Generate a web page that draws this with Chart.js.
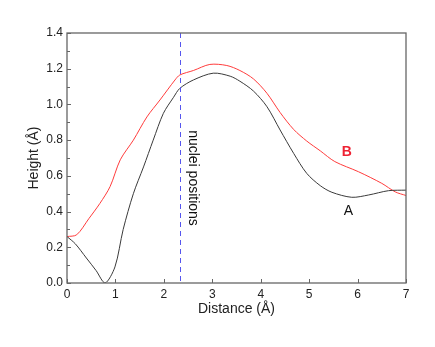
<!DOCTYPE html>
<html>
<head>
<meta charset="utf-8">
<script src="https://cdn.jsdelivr.net/npm/chart.js@4"></script>
<style>
  html, body { margin: 0; padding: 0; background: #fff; }
  #wrap { width: 435px; height: 347px; }
</style>
</head>
<body>
<div id="wrap"><canvas id="heightChart" width="435" height="347"></canvas></div>
<script>
// curve A (black)
const distA = [0, 0.17, 0.4, 0.6, 0.785, 0.99, 1.16, 1.37, 1.58, 1.78, 1.99, 2.2, 2.33, 2.61, 3.02, 3.37, 3.57, 3.85, 4.13, 4.4, 4.68, 4.95, 5.23, 5.47, 5.88, 6.23, 6.64, 7.0];
const heightA = [0.26, 0.22, 0.14, 0.07, 0.0, 0.09, 0.30, 0.50, 0.65, 0.80, 0.95, 1.04, 1.09, 1.137, 1.175, 1.158, 1.13, 1.075, 0.987, 0.857, 0.726, 0.614, 0.545, 0.508, 0.48, 0.493, 0.517, 0.52];
// curve B (red)
const distB = [0, 0.2, 0.45, 0.68, 0.89, 1.1, 1.37, 1.65, 1.92, 2.23, 2.33, 2.61, 2.95, 3.3, 3.57, 3.85, 4.13, 4.4, 4.68, 4.95, 5.23, 5.53, 6.02, 6.5, 6.78, 7.0];
const heightB = [0.26, 0.27, 0.36, 0.446, 0.54, 0.69, 0.80, 0.93, 1.025, 1.137, 1.165, 1.19, 1.224, 1.218, 1.19, 1.143, 1.062, 0.955, 0.86, 0.795, 0.74, 0.68, 0.623, 0.558, 0.51, 0.49];

const xTicks = [0, 1, 2, 3, 4, 5, 6, 7];
const yTicks = [0.0, 0.2, 0.4, 0.6, 0.8, 1.0, 1.2, 1.4];
const nucleiX = 2.33;
const labelA = { x: 5.81, y: 0.405, text: 'A' };
const labelB = { x: 5.78, y: 0.735, text: 'B' };

const FONT = '"Liberation Sans", Arial, sans-serif';

function toPoints(xs, ys) {
    return xs.map((x, i) => ({ x: x, y: ys[i] }));
}

// frame, inward ticks, nuclei line and curve labels
const decorPlugin = {
    id: 'decor',
    afterDatasetsDraw(chart) {
        const ctx = chart.ctx;
        const a = chart.chartArea;
        const xs = chart.scales.x;
        const ys = chart.scales.y;

        ctx.save();
        // dashed nuclei line
        const nx = Math.round(xs.getPixelForValue(nucleiX)) + 0.5;
        ctx.strokeStyle = '#5656ee';
        ctx.lineWidth = 1;
        ctx.setLineDash([5, 4]);
        ctx.beginPath();
        ctx.moveTo(nx, a.top);
        ctx.lineTo(nx, a.bottom);
        ctx.stroke();
        ctx.setLineDash([]);

        // frame
        ctx.strokeStyle = '#666';
        ctx.lineWidth = 1.3;
        ctx.strokeRect(a.left, a.top, a.right - a.left, a.bottom - a.top);

        // x ticks (inward)
        ctx.lineWidth = 1;
        ctx.beginPath();
        xTicks.forEach(v => {
            const px = Math.round(xs.getPixelForValue(v)) + 0.5;
            ctx.moveTo(px, a.bottom);
            ctx.lineTo(px, a.bottom - 4);
        });
        // y ticks, majors and minors
        for (let i = 0; i <= 14; i++) {
            const py = Math.round(ys.getPixelForValue(i / 10)) + 0.5;
            const len = i % 2 === 0 ? 4 : 3;
            ctx.moveTo(a.left, py);
            ctx.lineTo(a.left + len, py);
        }
        ctx.stroke();

        // curve labels
        ctx.textAlign = 'center';
        ctx.textBaseline = 'middle';
        ctx.font = 'bold 14px ' + FONT;
        ctx.fillStyle = '#ee2233';
        ctx.fillText(labelB.text, xs.getPixelForValue(labelB.x), ys.getPixelForValue(labelB.y));
        ctx.font = '14px ' + FONT;
        ctx.fillStyle = '#111';
        ctx.fillText(labelA.text, xs.getPixelForValue(labelA.x), ys.getPixelForValue(labelA.y));

        // nuclei positions text
        ctx.translate(nx + 12, 178);
        ctx.rotate(Math.PI / 2);
        ctx.font = '14px ' + FONT;
        ctx.fillStyle = '#111';
        ctx.fillText('nuclei positions', 0, 0);
        ctx.restore();
    }
};

const ctx = document.getElementById('heightChart').getContext('2d');
const chart = new Chart(ctx, {
    type: 'line',
    data: {
        datasets: [
            {
                label: 'A',
                data: toPoints(distA, heightA),
                borderColor: '#3a3a3a',
                borderWidth: 1,
                pointRadius: 0,
                tension: 0.3,
                fill: false
            },
            {
                label: 'B',
                data: toPoints(distB, heightB),
                borderColor: '#ff3b3b',
                borderWidth: 1,
                pointRadius: 0,
                tension: 0.3,
                fill: false
            }
        ]
    },
    options: {
        responsive: false,
        animation: false,
        layout: { padding: { left: 0, top: 33, right: 29, bottom: 24 } },
        plugins: {
            legend: { display: false },
            tooltip: { enabled: false }
        },
        scales: {
            x: {
                type: 'linear',
                min: 0,
                max: 7,
                afterFit(scale) { scale.height = 40; },
                afterBuildTicks(scale) { scale.ticks = xTicks.map(v => ({ value: v })); },
                grid: { display: false, drawTicks: false, tickLength: 0 },
                border: { display: false },
                ticks: {
                    color: '#222',
                    padding: 4,
                    font: { family: FONT, size: 12 },
                    callback: v => String(v)
                },
                title: {
                    display: true,
                    text: 'Distance (Å)',
                    color: '#222',
                    font: { family: FONT, size: 14 },
                    padding: { top: 0, bottom: 5 }
                }
            },
            y: {
                type: 'linear',
                min: 0,
                max: 1.4,
                afterFit(scale) { scale.width = 67; },
                afterBuildTicks(scale) { scale.ticks = yTicks.map(v => ({ value: v })); },
                grid: { display: false, drawTicks: false, tickLength: 0 },
                border: { display: false },
                ticks: {
                    color: '#222',
                    padding: 4,
                    font: { family: FONT, size: 12 },
                    callback: v => Number(v).toFixed(1)
                },
                title: {
                    display: true,
                    text: 'Height (Å)',
                    color: '#222',
                    font: { family: FONT, size: 14 },
                    padding: { top: 26, bottom: 0 }
                }
            }
        }
    },
    plugins: [decorPlugin]
});
</script>
</body>
</html>
